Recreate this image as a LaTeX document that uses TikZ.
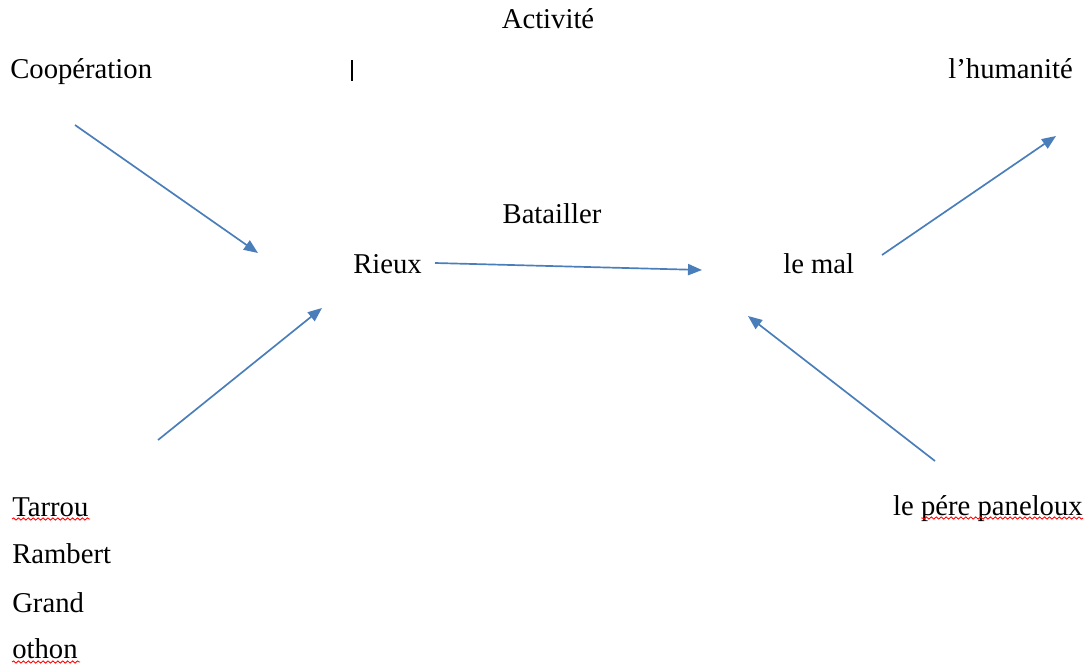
\documentclass[tikz,border=0pt]{standalone}
\usepackage{fontspec}
\setmainfont{Liberation Serif}
\usetikzlibrary{arrows.meta,decorations.pathmorphing}
\definecolor{arrowblue}{RGB}{74,126,187}

\def\ll{0.025}

\begin{document}
\begin{tikzpicture}[word/.style={inner sep=0pt,font=\fontsize{20.4}{24}\selectfont},
  link/.style={arrowblue,line width=1.2pt,-{Triangle[length=10pt,width=8pt]}},
  spell/.style={red,line width=0.6pt,decorate,decoration={snake,amplitude=0.8pt,segment length=3.5pt}}]
\useasboundingbox (0,0) rectangle (1090*\ll,-669*\ll);
% labels
\node[word,anchor=base]      (act)  at ( 548*\ll, -28*\ll) {Activité};
\node[word,anchor=base west] (coop) at (  10*\ll, -78*\ll) {Coopération};
\node[word,anchor=base east] (hum)  at (1073*\ll, -78*\ll) {l’humanité};
\node[word,anchor=base]      (bat)  at ( 552*\ll,-223*\ll) {Batailler};
\node[word,anchor=base west] (rieux) at ( 353*\ll,-273*\ll) {Rieux};
\node[word,anchor=base west] (mal)  at ( 783*\ll,-273*\ll) {le mal};
\node[word,anchor=base west] (tar)  at (  12*\ll,-516*\ll) {Tarrou};
\node[word,anchor=base west] (ram)  at (  12*\ll,-563*\ll) {Rambert};
\node[word,anchor=base west] (gra)  at (  12*\ll,-612*\ll) {Grand};
\node[word,anchor=base west] (oth)  at (  12*\ll,-658*\ll) {othon};
\node[word,anchor=base east] (pan)  at (1083*\ll,-515*\ll) {le pére paneloux};
% cursor bar
\draw[line width=1.3pt] (352*\ll,-60*\ll) -- (352*\ll,-81*\ll);
% arrow ends
\coordinate (c1) at (  75*\ll,-125*\ll); \coordinate (c2) at ( 258*\ll,-253*\ll);
\coordinate (t1) at ( 158*\ll,-440*\ll); \coordinate (t2) at ( 322*\ll,-308*\ll);
\coordinate (r1) at ( 435*\ll,-263*\ll); \coordinate (r2) at ( 702*\ll,-270*\ll);
\coordinate (m1) at ( 882*\ll,-255*\ll); \coordinate (m2) at (1056*\ll,-136*\ll);
\coordinate (p1) at ( 935*\ll,-461*\ll); \coordinate (p2) at ( 748*\ll,-316*\ll);
\draw[link] (c1) -- (c2);
\draw[link] (t1) -- (t2);
\draw[link] (r1) -- (r2);
\draw[link] (m1) -- (m2);
\draw[link] (p1) -- (p2);
% spelling marks
\draw[spell] (tar.base west) ++(0,-3*\ll) -- ++(78*\ll,0);
\draw[spell] (oth.base west) ++(0,-4*\ll) -- ++(68*\ll,0);
\draw[spell] (pan.base east) ++(0,-3*\ll) -- ++(-162*\ll,0);
\end{tikzpicture}
\end{document}
